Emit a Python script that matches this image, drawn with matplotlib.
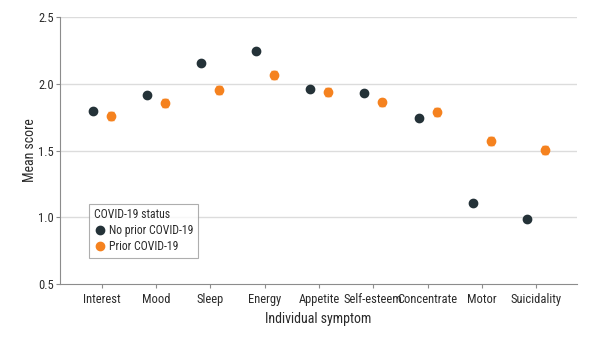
import numpy as np
import matplotlib
matplotlib.use("Agg")
import matplotlib.pyplot as plt
from matplotlib.lines import Line2D

plt.rcParams["font.family"] = ["Roboto Condensed", "Fira Sans Condensed",
                               "Sofia Sans Semi Condensed", "DejaVu Sans"]

symptoms = ["Interest", "Mood", "Sleep", "Energy", "Appetite", "Self-esteem",
            "Concentrate", "Motor", "Suicidality"]
no_prior = [1.80, 1.915, 2.155, 2.245, 1.96, 1.935, 1.745, 1.107, 0.988]
prior = [1.758, 1.855, 1.955, 2.065, 1.938, 1.862, 1.79, 1.575, 1.503]
prior_err = [0.028, 0.028, 0.028, 0.028, 0.028, 0.028, 0.028, 0.03, 0.03]

DARK = "#243238"
ORANGE = "#f5821f"
GRID = "#dcdcdc"
SPINE = "#8c8c8c"
TEXT = "#2a2a2a"

fig = plt.figure(figsize=(5.99, 3.43), dpi=100)
ax = fig.add_axes([0.1002, 0.172, 0.863, 0.778])

x = np.arange(len(symptoms))
off = 0.165
ax.plot(x - off, no_prior, "o", color=DARK, ms=6, zorder=3)
ax.errorbar(x + off, prior, yerr=prior_err, fmt="o", color=ORANGE, ms=6,
            elinewidth=1, capsize=2.5, capthick=1, zorder=3)

ax.set_xlim(-0.77, 8.75)
ax.set_ylim(0.5, 2.5)
ax.set_yticks([0.5, 1.0, 1.5, 2.0, 2.5])
ax.set_yticklabels(["0.5", "1.0", "1.5", "2.0", "2.5"])
ax.set_xticks(x)
ax.set_xticklabels(symptoms)
for yv in [1.0, 1.5, 2.0, 2.5]:
    ax.axhline(yv, color=GRID, lw=1, zorder=0)

for s in ["top", "right"]:
    ax.spines[s].set_visible(False)
for s in ["left", "bottom"]:
    ax.spines[s].set_color(SPINE)
    ax.spines[s].set_linewidth(0.8)
ax.tick_params(axis="both", colors=SPINE, labelcolor=TEXT, labelsize=9,
               length=3, width=0.8)
ax.tick_params(axis="y", pad=1.5)

ax.set_xlabel("Individual symptom", fontsize=10, color=TEXT, labelpad=4)
ax.set_ylabel("Mean score", fontsize=10, color=TEXT, labelpad=1)

handles = [
    Line2D([], [], marker="o", ls="", color=DARK, ms=6),
    Line2D([], [], marker="o", ls="", color=ORANGE, ms=6),
]
leg = ax.legend(handles, ["No prior COVID-19", "Prior COVID-19"],
                title="COVID-19 status", loc="lower left",
                bbox_to_anchor=(0.056, 0.097), borderaxespad=0,
                fontsize=8.5, title_fontsize=8.5,
                frameon=True, fancybox=False, edgecolor="#9a9a9a",
                handletextpad=0.3, handlelength=1.0, borderpad=0.4,
                labelspacing=0.25)
leg._legend_box.align = "left"
leg.get_frame().set_linewidth(0.8)
for t in leg.get_texts() + [leg.get_title()]:
    t.set_color(TEXT)

fig.savefig("out.png", dpi=100)
